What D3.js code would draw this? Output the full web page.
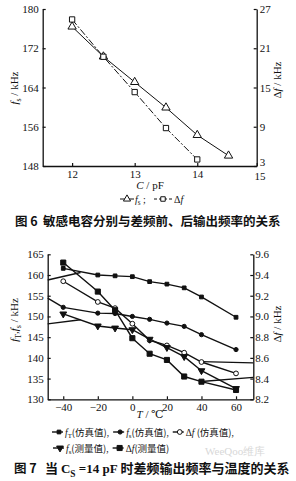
<!DOCTYPE html>
<html>
<head>
<meta charset="utf-8">
<script src="https://cdn.jsdelivr.net/npm/d3@7"></script>
<style>
  body { margin: 0; background: #fff; }
  svg text { font-family: "Liberation Serif", "DejaVu Serif", serif; fill: #111; }
  .cjk { font-family: "Noto Sans CJK SC", sans-serif; }
</style>
</head>
<body>
<svg id="chart"></svg>
<script>
// ---- Fig 6 data ----
const capC = [12, 12.5, 13, 13.5, 14, 14.5];
const fsTop = [176.4, 170.3, 165.1, 159.9, 154.3, 150.1];
const capCdf = [12, 12.5, 13, 13.5, 14];
const dfTop = [25.4, 19.7, 14.3, 8.8, 4.0];
const capTicks = [12, 13, 14, 14.95];
const fsTopTicks = [148, 156, 164, 172, 180];
const dfTopTicks = [3, 9, 15, 21, 27];

// ---- Fig 7 data ----
const temps = [-40, -20, -10, 0, 10, 20, 30, 40, 60];
const fTsim = [161.6, 160.0, 159.8, 159.6, 158.4, 157.8, 156.9, 154.7, 149.8];
const fsSim = [152.2, 150.8, 150.7, 150.0, 149.3, 148.4, 147.6, 145.6, 142.0];
const dfSim = [9.34, 9.14, 9.08, 8.93, 8.77, 8.72, 8.65, 8.56, 8.45];
const fsMeas = [150.6, 147.7, 147.2, 146.8, 144.5, 142.5, 140.3, 136.9, 132.6];
const dfMeas = [9.52, 9.24, 9.06, 8.79, 8.64, 8.58, 8.42, 8.37, 8.29];
// loose segments running to the frame edges (values on the left f axis)
const strayT0 = [-49, -49, -49, 40, 40];
const strayT1 = [-30, -40, -30, 70, 70];
const strayV0 = [158.8, 154.4, 148.2, 139.1, 134.3];
const strayV1 = [160.6, 152.2, 149.2, 138.8, 135.3];
const tempTicks = [-40, -20, 0, 20, 40, 60];
const fBotTicks = [130, 135, 140, 145, 150, 155, 160, 165];
const dfBotTicks = [8.2, 8.4, 8.6, 8.8, 9.0, 9.2, 9.4, 9.6];

const ink = "#111";
const svg = d3.select("#chart").attr("width", 296).attr("height", 481);
svg.append("rect").attr("width", 296).attr("height", 481).attr("fill", "#fff");

// text with italic / subscript / CJK pieces
const richText = (parent, parts, size) => {
  const t = parent.append("text").attr("font-size", size);
  let shifted = 0;
  parts.forEach(p => {
    const s = t.append("tspan").text(p.t);
    if (p.i) s.attr("font-style", "italic");
    if (p.c) s.attr("class", "cjk");
    if (p.b) s.attr("font-weight", "bold");
    if (p.sub) {
      s.attr("font-size", size * 0.72).attr("dy", size * 0.28 - shifted);
      shifted = size * 0.28;
    } else if (shifted) {
      s.attr("dy", -shifted);
      shifted = 0;
    }
  });
  return t;
};

const styleAxis = (g, size) => {
  g.select(".domain").attr("stroke", ink).attr("stroke-width", 1.3);
  g.selectAll(".tick line").attr("stroke", ink).attr("stroke-width", 1.2);
  g.selectAll(".tick text").attr("font-size", size)
    .attr("font-family", '"Liberation Serif", serif').attr("fill", ink);
};

// ================= Fig 6 =================
const xTop = d3.scaleLinear().domain([11.53, 14.95]).range([42.7, 256.7]);
const yTopL = d3.scaleLinear().domain([148, 180]).range([166, 9]);
const yTopR = d3.scaleLinear().domain([3, 27]).range([166, 9]);

const gTop = svg.append("g");
gTop.append("g").attr("transform", "translate(42.7,0)")
  .call(d3.axisLeft(yTopL).tickValues(fsTopTicks).tickSizeInner(-3).tickSizeOuter(0).tickPadding(4))
  .call(g => styleAxis(g, 11));
gTop.append("g").attr("transform", "translate(256.7,0)")
  .call(d3.axisRight(yTopR).tickValues(dfTopTicks).tickSizeInner(-3).tickSizeOuter(0).tickPadding(3))
  .call(g => styleAxis(g, 11))
  .call(g => g.selectAll(".tick text").filter(d => d === 3).attr("dy", "-0.05em"));
gTop.append("g").attr("transform", "translate(0,166)")
  .call(d3.axisBottom(xTop).tickValues(capTicks).tickFormat(d3.format(".0f"))
    .tickSizeInner(-3).tickSizeOuter(0).tickPadding(4))
  .call(g => styleAxis(g, 11))
  .call(g => g.selectAll(".tick text").filter(d => d > 14.5).attr("dx", "0.25em").attr("dy", "0.95em"));

const fsTopPts = capC.map((c, i) => [xTop(c), yTopL(fsTop[i])]);
const dfTopPts = capCdf.map((c, i) => [xTop(c), yTopR(dfTop[i])]);
gTop.append("path").attr("d", d3.line()(fsTopPts))
  .attr("fill", "none").attr("stroke", ink).attr("stroke-width", 1);
gTop.append("path").attr("d", d3.line()(dfTopPts))
  .attr("fill", "none").attr("stroke", ink).attr("stroke-width", 1).attr("stroke-dasharray", "7,2,2,2");
gTop.selectAll(".tri").data(fsTopPts).join("path")
  .attr("transform", d => `translate(${d[0]},${d[1]})`)
  .attr("d", d3.symbol(d3.symbolTriangle, 30)())
  .attr("fill", "#fff").attr("stroke", ink).attr("stroke-width", 1);
gTop.selectAll(".sq").data(dfTopPts).join("path")
  .attr("transform", d => `translate(${d[0]},${d[1]})`)
  .attr("d", d3.symbol(d3.symbolSquare, 28)())
  .attr("fill", "#fff").attr("stroke", ink).attr("stroke-width", 1);

richText(gTop.append("g").attr("transform", "translate(18,88) rotate(-90)"),
  [{t: "f", i: 1}, {t: "s", sub: 1}, {t: " / kHz"}], 11).attr("text-anchor", "middle");
richText(gTop.append("g").attr("transform", "translate(281,80) rotate(-90)"),
  [{t: "Δ"}, {t: "f", i: 1}, {t: " / kHz"}], 11).attr("text-anchor", "middle");
richText(gTop.append("g").attr("transform", "translate(150,189)"),
  [{t: "C", i: 1}, {t: " / pF"}], 11).attr("text-anchor", "middle");

// legend of Fig 6
const lgTop = gTop.append("g").attr("transform", "translate(0,199)");
lgTop.append("line").attr("x1", 120).attr("x2", 134).attr("stroke", ink);
lgTop.append("path").attr("transform", "translate(127,0)")
  .attr("d", d3.symbol(d3.symbolTriangle, 22)()).attr("fill", "#fff").attr("stroke", ink);
richText(lgTop.append("g").attr("transform", "translate(135,3.5)"),
  [{t: "f", i: 1}, {t: "s", sub: 1}, {t: " ;"}], 10);
lgTop.append("line").attr("x1", 154).attr("x2", 172).attr("stroke", ink).attr("stroke-dasharray", "3,2");
lgTop.append("path").attr("transform", "translate(163,0)")
  .attr("d", d3.symbol(d3.symbolSquare, 20)()).attr("fill", "#fff").attr("stroke", ink);
richText(lgTop.append("g").attr("transform", "translate(174,3.5)"),
  [{t: "Δ"}, {t: "f", i: 1}], 10);

// caption of Fig 6
svg.append("text").attr("class", "cjk").attr("x", 15).attr("y", 226)
  .attr("font-size", 12.5).attr("font-weight", "bold").text("图 6");
svg.append("text").attr("class", "cjk").attr("x", 43).attr("y", 226)
  .attr("font-size", 12.5).attr("font-weight", "bold").text("敏感电容分别与差频前、后输出频率的关系");

// ================= Fig 7 =================
const xBot = d3.scaleLinear().domain([-49, 70]).range([47.7, 253.3]);
const yBotL = d3.scaleLinear().domain([130, 165]).range([399.3, 254.3]);
const yBotR = d3.scaleLinear().domain([8.2, 9.6]).range([399.3, 254.3]);

const gBot = svg.append("g");
gBot.append("g").attr("transform", "translate(47.7,0)")
  .call(d3.axisLeft(yBotL).tickValues(fBotTicks).tickSizeInner(-3).tickSizeOuter(0).tickPadding(4))
  .call(g => styleAxis(g, 11));
gBot.append("g").attr("transform", "translate(253.3,0)")
  .call(d3.axisRight(yBotR).tickValues(dfBotTicks).tickFormat(d3.format(".1f"))
    .tickSizeInner(-3).tickSizeOuter(0).tickPadding(2))
  .call(g => styleAxis(g, 11));
gBot.append("g").attr("transform", "translate(0,399.3)")
  .call(d3.axisBottom(xBot).tickValues(tempTicks).tickSizeInner(-3).tickSizeOuter(0).tickPadding(4))
  .call(g => styleAxis(g, 11));

const lineBot = d3.line();
const drawSeries = (vals, yScale) => {
  const pts = temps.map((t, i) => [xBot(t), yScale(vals[i])]);
  gBot.append("path").attr("d", lineBot(pts))
    .attr("fill", "none").attr("stroke", ink).attr("stroke-width", 1.4);
  return pts;
};
// stray edge segments
strayT0.forEach((t, i) => {
  gBot.append("path")
    .attr("d", lineBot([[xBot(t), yBotL(strayV0[i])], [xBot(strayT1[i]), yBotL(strayV1[i])]]))
    .attr("fill", "none").attr("stroke", ink).attr("stroke-width", 1.4);
});

const ptsFT = drawSeries(fTsim, yBotL);
const ptsFS = drawSeries(fsSim, yBotL);
const ptsDS = drawSeries(dfSim, yBotR);
const ptsFM = drawSeries(fsMeas, yBotL);
const ptsDM = drawSeries(dfMeas, yBotR);

const markers = [
  {pts: ptsFT, sym: d3.symbolSquare, size: 14, fill: ink},
  {pts: ptsFS, sym: d3.symbolCircle, size: 14, fill: ink},
  {pts: ptsDS, sym: d3.symbolCircle, size: 18, fill: "#fff"},
  {pts: ptsFM, sym: d3.symbolTriangle, size: 20, fill: ink, rot: 180},
  {pts: ptsDM, sym: d3.symbolSquare, size: 26, fill: ink}
];
markers.forEach(m => {
  gBot.append("g").selectAll("path").data(m.pts).join("path")
    .attr("transform", d => `translate(${d[0]},${d[1]}) rotate(${m.rot || 0})`)
    .attr("d", d3.symbol(m.sym, m.size)())
    .attr("fill", m.fill).attr("stroke", ink).attr("stroke-width", 1);
});

richText(gBot.append("g").attr("transform", "translate(18,320) rotate(-90)"),
  [{t: "f", i: 1}, {t: "T", sub: 1}, {t: ","}, {t: "f", i: 1}, {t: "s", sub: 1}, {t: " / kHz"}], 11)
  .attr("text-anchor", "middle");
richText(gBot.append("g").attr("transform", "translate(281,324) rotate(-90)"),
  [{t: "Δ"}, {t: "f", i: 1}, {t: " / kHz"}], 11).attr("text-anchor", "middle");
richText(gBot.append("g").attr("transform", "translate(150,418)"),
  [{t: "T", i: 1}, {t: " / ℃"}], 11).attr("text-anchor", "middle");

// legend of Fig 7
const legendRows = [
  {y: 432, x: 52, items: [0, 1, 2]},
  {y: 448, x: 53, items: [3, 4]}
];
const legendText = [
  [{t: "f", i: 1}, {t: "T", sub: 1}, {t: "(仿真值)", c: 1}, {t: ","}],
  [{t: "f", i: 1}, {t: "s", sub: 1}, {t: "(仿真值)", c: 1}, {t: ","}],
  [{t: "Δ"}, {t: "f", i: 1}, {t: " (仿真值)", c: 1}, {t: ","}],
  [{t: "f", i: 1}, {t: "s", sub: 1}, {t: "(测量值)", c: 1}, {t: ","}],
  [{t: "Δ"}, {t: "f", i: 1}, {t: "(测量值)", c: 1}]
];
legendRows.forEach(row => {
  let x = row.x;
  row.items.forEach(k => {
    const g = gBot.append("g").attr("transform", `translate(${x},${row.y})`);
    g.append("line").attr("x1", 0).attr("x2", 11).attr("stroke", ink).attr("stroke-width", 1.4);
    const m = markers[k];
    g.append("path").attr("transform", `translate(7,0) rotate(${m.rot || 0})`)
      .attr("d", d3.symbol(m.sym, m.size)()).attr("fill", m.fill).attr("stroke", ink);
    const t = richText(g.append("g").attr("transform", "translate(13,3.5)"), legendText[k], 9.5);
    x += 13 + t.node().getComputedTextLength() + 4;
  });
});

// caption of Fig 7
svg.append("text").attr("class", "cjk").attr("x", 14).attr("y", 473)
  .attr("font-size", 12.5).attr("font-weight", "bold").text("图 7");
richText(svg.append("g").attr("transform", "translate(45,473)"), [
  {t: "当 ", c: 1, b: 1}, {t: "C", b: 1}, {t: "S", sub: 1, b: 1}, {t: " =14 pF ", b: 1},
  {t: "时差频输出频率与温度的关系", c: 1, b: 1}
], 13);

// scan watermark
svg.append("text").attr("x", 205).attr("y", 455).attr("font-size", 11)
  .attr("font-family", '"Noto Sans CJK SC", sans-serif')
  .style("fill", "#d8d8d8").text("WeeQoo维库");
</script>
</body>
</html>
